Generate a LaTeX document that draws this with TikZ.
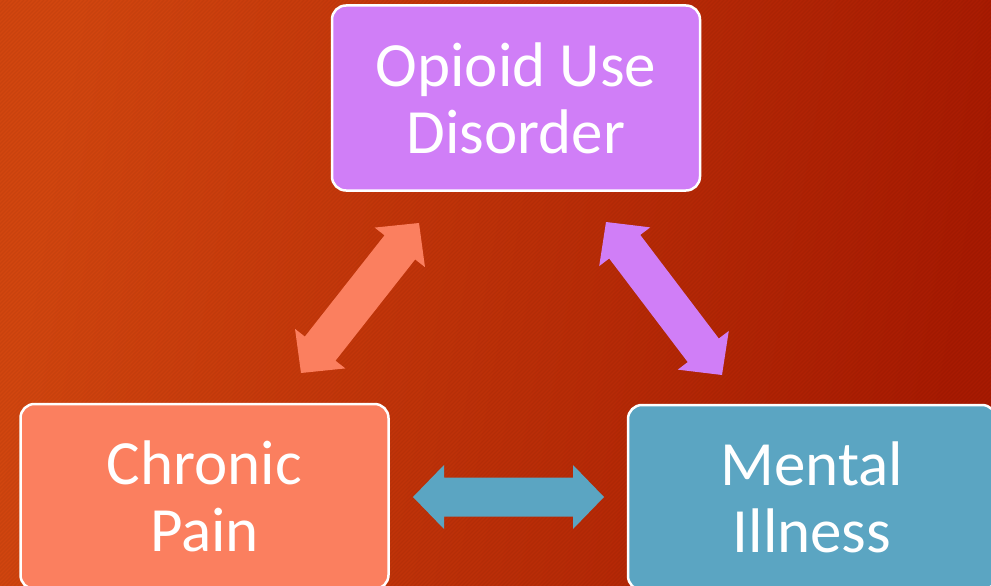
\documentclass[tikz,border=0pt]{standalone}
\usepackage{fontspec}
\setmainfont{Carlito}
\usetikzlibrary{calc}
\definecolor{purp}{HTML}{D07EF7}
\definecolor{salmn}{HTML}{FB7F5F}
\definecolor{ablue}{HTML}{5BA5C2}
\definecolor{bgA}{HTML}{D2460F}
\definecolor{bgB}{HTML}{A81A02}
\newcommand{\dblarrow}[3]{%
  \coordinate (ah) at ($(#1)!31pt!(#2)$);
  \coordinate (bh) at ($(#2)!31pt!(#1)$);
  \fill[#3] (#1) -- ($(ah)!32pt!90:(#2)$) -- ($(ah)!19.5pt!90:(#2)$)
    -- ($(bh)!19.5pt!-90:(#1)$) -- ($(bh)!32pt!-90:(#1)$) -- (#2)
    -- ($(bh)!32pt!90:(#1)$) -- ($(bh)!19.5pt!90:(#1)$)
    -- ($(ah)!19.5pt!-90:(#2)$) -- ($(ah)!32pt!-90:(#2)$) -- cycle;}
\begin{document}
\begin{tikzpicture}[x=1pt,y=-1pt,
  box/.style={draw=white, line width=2.5pt, rounded corners=14pt,
    minimum width=368pt, minimum height=185pt, text=white, align=center,
    font=\fontsize{63}{67}\selectfont, inner sep=0pt},
  stripe/.style={black, opacity=0.045, line width=1.2pt}]
\useasboundingbox (0,0) rectangle (991,586);
\shade[left color=bgA, right color=bgB, shading angle=80] (0,0) rectangle (991,586);
\begin{scope}
\clip (0,0) rectangle (991,586);
\foreach \i in {0,4,...,1580} \draw[stripe] (\i,0) -- (\i-586,586);
\end{scope}
\node[box, fill=purp] (oud) at (516,98) {Opioid Use\\Disorder};
\node[box, fill=salmn] (cp) at (204.5,496.5) {Chronic\\Pain};
\node[box, fill=ablue] (mi) at (812,497.5) {Mental\\Illness};
\coordinate (l1) at (301,373);
\coordinate (l2) at (419,223);
\coordinate (r1) at (606,222);
\coordinate (r2) at (722,375);
\coordinate (h1) at (413,497);
\coordinate (h2) at (604,497);
\dblarrow{l1}{l2}{salmn}
\dblarrow{r1}{r2}{purp}
\dblarrow{h1}{h2}{ablue}
\end{tikzpicture}
\end{document}
